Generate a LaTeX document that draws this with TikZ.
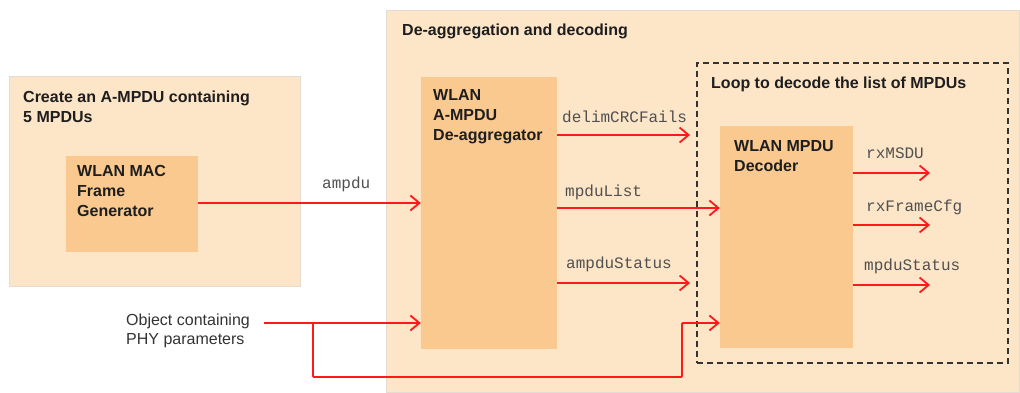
\documentclass[tikz,border=0pt]{standalone}
\usepackage{fontspec}
\setmainfont{Liberation Sans}
\setmonofont{Liberation Mono}
\usetikzlibrary{arrows.meta}
\definecolor{outerfill}{HTML}{FDE5C8}
\definecolor{innerfill}{HTML}{F9C98F}
\definecolor{sigred}{HTML}{FF1A1A}
\definecolor{lbl}{HTML}{505050}
\definecolor{ttl}{HTML}{1E1E1E}
\definecolor{edge}{HTML}{E2DCD2}
\newcommand{\linesof}[1]{\begin{tabular}[t]{@{}l@{}}#1\end{tabular}}
\tikzset{
  outerbox/.style={fill=outerfill, draw=edge, line width=0.6pt, inner sep=0pt},
  blockbox/.style={fill=innerfill, draw=none, inner sep=0pt},
  loopbox/.style={draw=black!80, line width=1.6pt, dash pattern=on 6pt off 4pt, inner sep=0pt},
  title/.style={anchor=base west, inner sep=0pt, text=ttl,
    font=\fontsize{16}{20}\selectfont\bfseries},
  sig/.style={anchor=base west, inner sep=0pt, text=lbl,
    font=\fontsize{16}{20}\selectfont\ttfamily},
  plain/.style={anchor=base west, inner sep=0pt, text=black!80,
    font=\fontsize{16}{19}\selectfont},
  wire/.style={draw=sigred, line width=1.8pt},
  arr/.style={wire, -{Straight Barb[length=9pt,width=15pt,line width=1.8pt]}},
}
\begin{document}
\begin{tikzpicture}[x=1pt,y=-1pt]
\useasboundingbox (0,0) rectangle (1020,393);
% containers
\node[outerbox, minimum width=291pt, minimum height=210pt] (left) at (154.5,181) {};
\node[outerbox, minimum width=633pt, minimum height=382pt] (right) at (702.5,201) {};
\node[loopbox, minimum width=311pt, minimum height=300pt] (loop) at (852.5,213) {};
% blocks
\node[blockbox, minimum width=132pt, minimum height=96pt] (gen) at (132,204) {};
\node[blockbox, minimum width=136pt, minimum height=272pt] (deagg) at (489,213) {};
\node[blockbox, minimum width=133pt, minimum height=222pt] (dec) at (786.5,237) {};
% titles
\node[title] (lefttitle) at (23,103) {\linesof{Create an A-MPDU containing\\5 MPDUs}};
\node[title] (righttitle) at (402,36) {De-aggregation and decoding};
\node[title] (looptitle) at (711,89) {Loop to decode the list of MPDUs};
\node[title] (gentext) at (77,176) {\linesof{WLAN MAC\\Frame\\Generator}};
\node[title] (deaggtext) at (433,101) {\linesof{WLAN\\A-MPDU\\De-aggregator}};
\node[title] (dectext) at (734,152) {\linesof{WLAN MPDU\\Decoder}};
\node[plain] (phy) at (126,325) {\linesof{Object containing\\PHY parameters}};
% signal labels
\node[sig] (lampdu) at (322,188) {ampdu};
\node[sig] (ldelim) at (562,123) {delimCRCFails};
\node[sig] (llist) at (565,196) {mpduList};
\node[sig] (lastat) at (566,268) {ampduStatus};
\node[sig] (lmsdu) at (866,159) {rxMSDU};
\node[sig] (lcfg) at (866,211) {rxFrameCfg};
\node[sig] (lmstat) at (864,270) {mpduStatus};
% helper coordinates
\coordinate (yamp) at (0,203);
\coordinate (ydel) at (0,135);
\coordinate (ylist) at (0,208);
\coordinate (yast) at (0,283);
\coordinate (yin) at (0,323);
\coordinate (ybot) at (0,377);
\coordinate (ymsdu) at (0,173);
\coordinate (ycfg) at (0,225);
\coordinate (ymst) at (0,285);
\coordinate (xstop) at (690,0);
\coordinate (xout) at (930,0);
\coordinate (xup) at (682,0);
\coordinate (src) at (264,323);
\coordinate (branch) at (313,323);
% connectors
\draw[arr] (gen.east |- yamp) -- (deagg.west |- yamp);
\draw[arr] (deagg.east |- ydel) -- (xstop |- ydel);
\draw[arr] (deagg.east |- ylist) -- (dec.west |- ylist);
\draw[arr] (deagg.east |- yast) -- (xstop |- yast);
\draw[arr] (src) -- (deagg.west |- yin);
\draw[arr, rounded corners=1pt] (branch) -- (branch |- ybot) -- (xup |- ybot) -- (xup |- yin) -- (dec.west |- yin);
\draw[arr] (dec.east |- ymsdu) -- (xout |- ymsdu);
\draw[arr] (dec.east |- ycfg) -- (xout |- ycfg);
\draw[arr] (dec.east |- ymst) -- (xout |- ymst);
\end{tikzpicture}
\end{document}
